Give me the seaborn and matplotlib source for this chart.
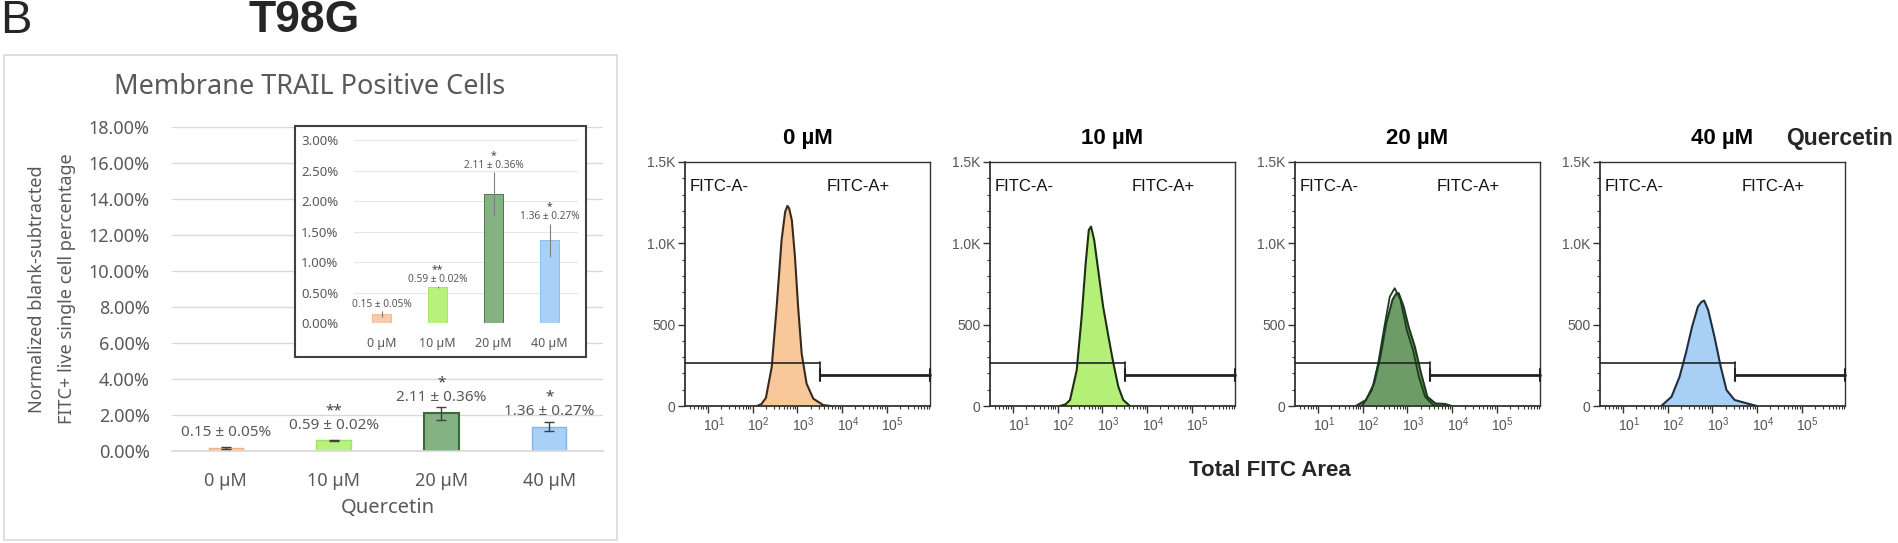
import numpy as np
import pandas as pd
import matplotlib
matplotlib.use("Agg")
import matplotlib.pyplot as plt
import matplotlib.ticker as mticker
from matplotlib.patches import Rectangle
from matplotlib.transforms import ScaledTranslation
import seaborn as sns

# ---------------- data ----------------
conc_labels = ["0 µM", "10 µM", "20 µM", "40 µM"]
mean_pct = [0.15, 0.59, 2.11, 1.36]
sem_pct = [0.05, 0.02, 0.36, 0.27]
sig_marks = ["", "**", "*", "*"]
value_labels = ["0.15 ± 0.05%", "0.59 ± 0.02%", "2.11 ± 0.36%", "1.36 ± 0.27%"]
main_yticks = [0, 2, 4, 6, 8, 10, 12, 14, 16, 18]
inset_yticks = [0, 0.5, 1.0, 1.5, 2.0, 2.5, 3.0]

hist_titles = ["0 µM", "10 µM", "20 µM", "40 µM"]
# log10(Total FITC Area) and event counts
h0_log = [2.10, 2.20, 2.30, 2.43, 2.54, 2.65, 2.73, 2.78, 2.82, 2.88, 2.95, 3.02, 3.10, 3.21, 3.36, 3.58, 3.75]
h0_cnt = [0, 12, 50, 240, 609, 1019, 1193, 1230, 1215, 1142, 916, 609, 322, 137, 45, 6, 0]
h1_log = [2.05, 2.18, 2.28, 2.43, 2.54, 2.63, 2.70, 2.75, 2.82, 2.91, 3.02, 3.14, 3.25, 3.36, 3.47, 3.62]
h1_cnt = [0, 10, 37, 221, 549, 877, 1082, 1103, 1021, 836, 611, 426, 262, 119, 37, 0]
h2_log = [1.85, 2.08, 2.26, 2.40, 2.53, 2.67, 2.75, 2.81, 2.92, 3.03, 3.17, 3.31, 3.45, 3.63, 3.85, 3.99]
h2_cnt = [0, 37, 139, 303, 508, 652, 690, 693, 611, 488, 365, 201, 57, 16, 12, 0]
h2b_log = [1.99, 2.21, 2.35, 2.49, 2.61, 2.72, 2.85, 2.99, 3.13, 3.26, 3.40, 3.58, 3.75]
h2b_cnt = [0, 98, 262, 488, 672, 724, 652, 467, 344, 180, 57, 6, 0]
h3_log = [1.86, 2.09, 2.27, 2.41, 2.55, 2.68, 2.76, 2.82, 2.91, 3.05, 3.19, 3.32, 3.50, 3.78, 4.00]
h3_cnt = [0, 57, 180, 324, 488, 611, 640, 648, 590, 426, 242, 98, 37, 16, 0]

gate_split_log = 3.51
gate_neg_count = 262
gate_pos_count = 188
hist_yticks = [0, 500, 1000, 1500]
hist_yticklabels = ["0", "500", "1.0K", "1.5K"]
hist_xdecades = [1, 2, 3, 4, 5]

# ---------------- style ----------------
sns.set_theme(style="white")
plt.rcParams['font.family'] = ['Noto Sans', 'DejaVu Sans']
plt.rcParams['mathtext.default'] = 'regular'

GRAY = "#595959"
BOLD = ["Liberation Sans", "DejaVu Sans"]
bar_fill = ["#F8CBAD", "#B6F27C", "#84B283", "#A9D1F7"]
bar_edge = ["#F4B183", "#A0E060", "#3A6A3A", "#86B6E6"]
hist_fill = ["#F8C89B", "#B4F078", "#6E9C66", "#A8CFF4"]
hist_edge = ["#3A2A1C", "#1E2E14", "#1E3A1E", "#1F2F3F"]

W, H = 1899, 543
fig = plt.figure(figsize=(W / 100, H / 100), dpi=100)
fig.patch.set_facecolor("white")


def rect(x0, y0, x1, y1):
    return [x0 / W, 1 - y1 / H, (x1 - x0) / W, (y1 - y0) / H]


def fp(x, y):
    return (x / W, 1 - y / H)


# outer labels
fig.text(*fp(0, 21), "B", fontsize=34, ha="left", va="center", family=["Liberation Sans"])
fig.text(*fp(304, 21), "T98G", fontsize=32, fontweight="bold", ha="center", va="center", family=BOLD)

# left panel frame
fig.patches.append(Rectangle(fp(4, 540), (617 - 4) / W, (540 - 55) / H, transform=fig.transFigure,
                             facecolor="none", edgecolor="#d9d9d9", lw=1.2, zorder=0))
fig.text(*fp(310, 87), "Membrane TRAIL Positive Cells", fontsize=19.5, color=GRAY, ha="center", va="center")
fig.text(*fp(37, 289), "Normalized blank-subtracted", fontsize=13, color=GRAY, rotation=90,
         ha="center", va="center")
fig.text(*fp(67, 289), "FITC+ live single cell percentage", fontsize=13, color=GRAY, rotation=90,
         ha="center", va="center")

df = pd.DataFrame({"conc": conc_labels, "val": mean_pct})
pct_fmt = mticker.FuncFormatter(lambda v, p: f"{v:.2f}%")

# ---------------- main bar chart ----------------
ax = fig.add_axes(rect(172, 127, 603, 451), zorder=1)
sns.barplot(data=df, x="conc", y="val", hue="conc", palette=bar_fill, width=0.32, legend=False,
            errorbar=None, saturation=1, ax=ax)
for patch, ec, lw in zip(ax.patches, bar_edge, [1, 1, 1.5, 1]):
    patch.set_edgecolor(ec)
    patch.set_linewidth(lw)
ax.errorbar(range(4), mean_pct, yerr=sem_pct, fmt="none", ecolor="#404040", elinewidth=1,
            capsize=3.5, capthick=1, zorder=4)
ax.set_ylim(0, 18)
ax.set_xlim(-0.5, 3.5)
ax.set_yticks(main_yticks)
ax.yaxis.set_major_formatter(pct_fmt)
ax.grid(axis="y", color="#d9d9d9", lw=1)
ax.set_axisbelow(True)
for s in ["top", "left", "right"]:
    ax.spines[s].set_visible(False)
ax.spines["bottom"].set_color("#d9d9d9")
ax.tick_params(axis="y", length=0, labelsize=13, labelcolor=GRAY, pad=16)
ax.tick_params(axis="x", length=0, labelsize=13, labelcolor=GRAY, pad=15)
ax.set_xlabel("Quercetin", fontsize=14.5, color=GRAY, labelpad=6)
ax.set_ylabel("")
for i in range(4):
    ax.annotate(value_labels[i], xy=(i, mean_pct[i]), xytext=(0, 8.5), textcoords="offset points",
                ha="center", va="baseline", fontsize=11, color=GRAY)
    if sig_marks[i]:
        ax.annotate(sig_marks[i], xy=(i, mean_pct[i]), xytext=(0, 19), textcoords="offset points",
                    ha="center", va="baseline", fontsize=11, color="#404040")

# ---------------- inset ----------------
fig.patches.append(Rectangle(fp(295, 356.7), (586 - 295) / W, (356.7 - 126) / H, transform=fig.transFigure,
                             facecolor="white", edgecolor="#404040", lw=1.5, zorder=2))
axi = fig.add_axes(rect(353.7, 140, 577.7, 323.3), zorder=3)
axi.set_facecolor("none")
sns.barplot(data=df, x="conc", y="val", hue="conc", palette=bar_fill, width=0.34, legend=False,
            errorbar=None, saturation=1, ax=axi)
for patch, ec in zip(axi.patches, bar_edge):
    patch.set_edgecolor(ec)
    patch.set_linewidth(0.6)
axi.errorbar(range(4), mean_pct, yerr=sem_pct, fmt="none", ecolor="#7f7f7f", elinewidth=0.8,
             capsize=0, zorder=4)
axi.set_ylim(0, 3)
axi.set_xlim(-0.5, 3.5)
axi.set_yticks(inset_yticks)
axi.yaxis.set_major_formatter(pct_fmt)
axi.grid(axis="y", color="#e6e6e6", lw=0.8)
axi.set_axisbelow(True)
for s in ["top", "left", "right", "bottom"]:
    axi.spines[s].set_visible(False)
axi.tick_params(axis="y", length=0, labelsize=9.5, labelcolor=GRAY, pad=11)
axi.tick_params(axis="x", length=0, labelsize=9, labelcolor=GRAY, pad=10)
axi.set_xlabel("")
axi.set_ylabel("")
for i in range(4):
    top = mean_pct[i] + sem_pct[i]
    axi.annotate(value_labels[i], xy=(i, top), xytext=(0, 3.2), textcoords="offset points",
                 ha="center", va="baseline", fontsize=7.3, color=GRAY)
    if sig_marks[i]:
        axi.annotate(sig_marks[i], xy=(i, top), xytext=(0, 10.4), textcoords="offset points",
                     ha="center", va="baseline", fontsize=7.5, color="#404040")

# ---------------- histograms ----------------
hist_logs = [h0_log, h1_log, h2_log, h3_log]
hist_cnts = [h0_cnt, h1_cnt, h2_cnt, h3_cnt]
xmin, xmax = 10 ** 0.49, 10 ** 5.97
gsplit = 10 ** gate_split_log
cap = 37
for i in range(4):
    x0 = 685 + 305 * i
    axh = fig.add_axes(rect(x0, 162, x0 + 245, 406))
    axh.set_xscale("log")
    xs = 10 ** np.array(hist_logs[i])
    axh.fill_between(xs, hist_cnts[i], color=hist_fill[i], lw=0, zorder=2)
    sns.lineplot(x=xs, y=hist_cnts[i], color=hist_edge[i], lw=1.5, ax=axh, estimator=None,
                 sort=False, zorder=3)
    if i == 2:
        sns.lineplot(x=10 ** np.array(h2b_log), y=h2b_cnt, color=hist_edge[i], lw=1.3, ax=axh,
                     estimator=None, sort=False, zorder=3)
    # gates
    axh.plot([xmin, gsplit], [gate_neg_count, gate_neg_count], color="#222222", lw=1.2, zorder=4, clip_on=False)
    axh.plot([gsplit, gsplit], [gate_neg_count - cap, gate_neg_count + cap * 0.3], color="#222222", lw=1.2,
             zorder=4, clip_on=False)
    axh.plot([gsplit, xmax], [gate_pos_count, gate_pos_count], color="#222222", lw=2.0, zorder=4, clip_on=False)
    for gx in [gsplit, xmax]:
        axh.plot([gx, gx], [gate_pos_count - cap, gate_pos_count + cap], color="#222222", lw=1.5,
                 zorder=4, clip_on=False)
    axh.set_xlim(xmin, xmax)
    axh.set_ylim(0, 1500)
    axh.set_yticks(hist_yticks, hist_yticklabels)
    axh.yaxis.set_minor_locator(mticker.MultipleLocator(100))
    axh.set_xticks([10.0 ** d for d in hist_xdecades],
                   [r"$\mathregular{10^{%d}}$" % d for d in hist_xdecades])
    axh.xaxis.set_minor_locator(mticker.LogLocator(base=10, subs=np.arange(2, 10), numticks=20))
    axh.xaxis.set_minor_formatter(mticker.NullFormatter())
    for s in axh.spines.values():
        s.set_color("#333333")
        s.set_linewidth(1.0)
    axh.spines["left"].set_linewidth(1.3)
    axh.spines["bottom"].set_linewidth(1.3)
    axh.tick_params(axis="both", which="major", direction="out", length=5, width=1, color="#333333",
                    labelsize=10, labelcolor="#555555", pad=2, left=True, bottom=True)
    axh.tick_params(axis="both", which="minor", direction="out", length=2.5, width=0.8, color="#333333",
                    left=True, bottom=True)
    for lab in axh.get_yticklabels() + axh.get_xticklabels():
        lab.set_fontfamily(["Liberation Sans", "DejaVu Sans"])
    shift = ScaledTranslation(6 / 100, 0, fig.dpi_scale_trans)
    for lab in axh.get_xticklabels():
        lab.set_transform(lab.get_transform() + shift)
    axh.set_title(hist_titles[i], fontsize=16, fontweight="bold", pad=13, color="black", family=BOLD)
    axh.text(0.02, 0.899, "FITC-A-", transform=axh.transAxes, ha="left", va="center", fontsize=12,
             color="#111111", family=["Liberation Sans"])
    axh.annotate("FITC-A+", xy=(gsplit, 0.899), xycoords=("data", "axes fraction"), xytext=(5, 0),
                 textcoords="offset points", ha="left", va="center", fontsize=12, color="#111111",
                 family=["Liberation Sans"])
    axh.set_xlabel("")
    axh.set_ylabel("")

fig.text(*fp(1840, 144.5), "Quercetin", fontsize=16.5, fontweight="bold", ha="center", va="baseline",
         family=BOLD)
fig.text(*fp(1270, 475.5), "Total FITC Area", fontsize=16, fontweight="bold", ha="center", va="baseline",
         family=BOLD)

fig.savefig("out.png", dpi=100, facecolor="white")
